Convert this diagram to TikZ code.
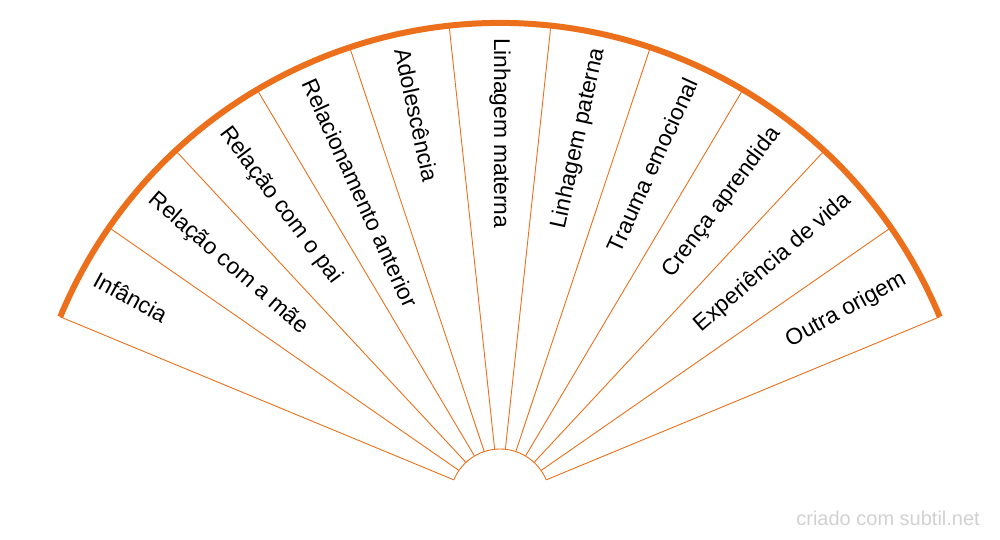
\documentclass[tikz,border=0pt]{standalone}
\usepackage{fontspec}
\setmainfont{Liberation Sans}
\definecolor{fanorange}{RGB}{236,112,28}
\begin{document}
\begin{tikzpicture}[x=1pt,y=1pt,spoke/.style={draw=fanorange,line width=0.9pt},rim/.style={draw=fanorange,line width=6pt},lblleft/.style={anchor=west,inner sep=0pt,font=\fontsize{22.8}{27}\selectfont},lblright/.style={anchor=east,inner sep=0pt,font=\fontsize{22.8}{27}\selectfont},credit/.style={text=black!18,inner sep=0pt,font=\fontsize{20}{24}\selectfont}]
\def\fanR{476};
\def\fanr{50};
\def\fanA{157.5};
\def\fanS{12.2727};
\def\fanP{15};

\useasboundingbox (0,0) rectangle (1000,540);

\begin{scope}[shift={(500,41)}]
\draw[spoke] (\fanA:\fanr) -- (\fanA:\fanR);
\draw[spoke] (\fanA-1*\fanS:\fanr) -- (\fanA-1*\fanS:\fanR);
\draw[spoke] (\fanA-2*\fanS:\fanr) -- (\fanA-2*\fanS:\fanR);
\draw[spoke] (\fanA-3*\fanS:\fanr) -- (\fanA-3*\fanS:\fanR);
\draw[spoke] (\fanA-4*\fanS:\fanr) -- (\fanA-4*\fanS:\fanR);
\draw[spoke] (\fanA-5*\fanS:\fanr) -- (\fanA-5*\fanS:\fanR);
\draw[spoke] (\fanA-6*\fanS:\fanr) -- (\fanA-6*\fanS:\fanR);
\draw[spoke] (\fanA-7*\fanS:\fanr) -- (\fanA-7*\fanS:\fanR);
\draw[spoke] (\fanA-8*\fanS:\fanr) -- (\fanA-8*\fanS:\fanR);
\draw[spoke] (\fanA-9*\fanS:\fanr) -- (\fanA-9*\fanS:\fanR);
\draw[spoke] (\fanA-10*\fanS:\fanr) -- (\fanA-10*\fanS:\fanR);
\draw[spoke] (\fanA-11*\fanS:\fanr) -- (\fanA-11*\fanS:\fanR);
\draw[spoke] (\fanA:\fanr) arc[start angle=\fanA,end angle=\fanA-11*\fanS,radius=\fanr];
\draw[rim] (\fanA:\fanR) arc[start angle=\fanA,end angle=\fanA-11*\fanS,radius=\fanR];

\node[lblleft,rotate=\fanA-0.5*\fanS-180] (lblA) at (\fanA-0.5*\fanS:\fanR-\fanP) {Infância};
\node[lblleft,rotate=\fanA-1.5*\fanS-180] (lblB) at (\fanA-1.5*\fanS:\fanR-\fanP) {Relação com a mãe};
\node[lblleft,rotate=\fanA-2.5*\fanS-180] (lblC) at (\fanA-2.5*\fanS:\fanR-\fanP) {Relação com o pai};
\node[lblleft,rotate=\fanA-3.5*\fanS-180] (lblD) at (\fanA-3.5*\fanS:\fanR-\fanP) {Relacionamento anterior};
\node[lblleft,rotate=\fanA-4.5*\fanS-180] (lblE) at (\fanA-4.5*\fanS:\fanR-\fanP) {Adolescência};
\node[lblleft,rotate=\fanA-5.5*\fanS-180] (lblF) at (\fanA-5.5*\fanS:\fanR-\fanP) {Linhagem materna};
\node[lblright,rotate=\fanA-6.5*\fanS] (lblG) at (\fanA-6.5*\fanS:\fanR-\fanP) {Linhagem paterna};
\node[lblright,rotate=\fanA-7.5*\fanS] (lblH) at (\fanA-7.5*\fanS:\fanR-\fanP) {Trauma emocional};
\node[lblright,rotate=\fanA-8.5*\fanS] (lblI) at (\fanA-8.5*\fanS:\fanR-\fanP) {Crença aprendida};
\node[lblright,rotate=\fanA-9.5*\fanS] (lblJ) at (\fanA-9.5*\fanS:\fanR-\fanP) {Experiência de vida};
\node[lblright,rotate=\fanA-10.5*\fanS] (lblK) at (\fanA-10.5*\fanS:\fanR-\fanP) {Outra origem};
\end{scope}

\node[credit,anchor=base east] (credit) at (980,14) {criado com subtil.net};
\end{tikzpicture}
\end{document}
